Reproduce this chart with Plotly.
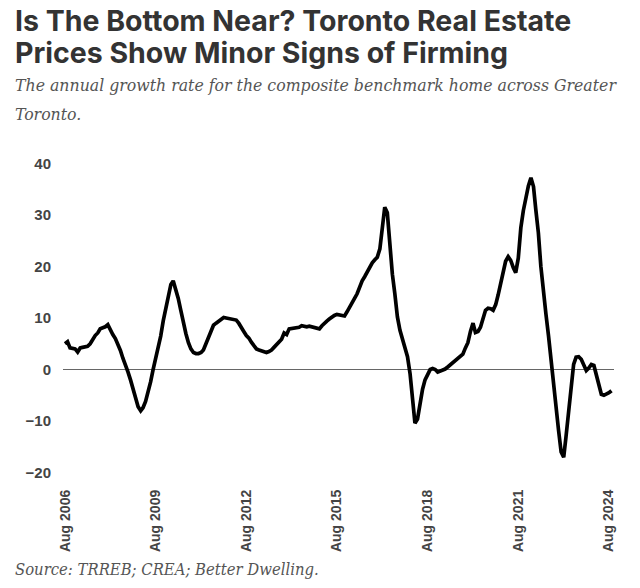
import plotly.graph_objects as go
import pandas as pd

# Annual growth rate (%) of the composite benchmark home, Greater Toronto, monthly from Aug 2006
start_month = "2006-08-01"
growth = [
    5.0, 5.4, 4.2, 4.1, 4.0, 3.4, 4.2, 4.3, 4.4, 4.5, 5.0, 5.8,          # Aug06-Jul07
    6.6, 7.1, 7.9, 8.1, 8.3, 8.7, 7.6, 6.8, 6.0, 4.9, 3.7, 2.2,          # Aug07-Jul08
    1.0, -0.5, -2.0, -3.6, -5.6, -7.2, -8.0, -7.4, -6.2, -4.6, -2.4, 0.0, # Aug08-Jul09
    2.0, 4.2, 6.5, 9.5, 11.8, 14.5, 16.5, 17.2, 15.6, 13.8, 11.5, 9.0,   # Aug09-Jul10
    7.0, 5.2, 4.0, 3.3, 3.1, 3.1, 3.3, 3.8, 5.0, 6.6, 7.8, 8.6,          # Aug10-Jul11
    9.0, 9.3, 9.6, 10.1, 10.0, 9.9, 9.9, 9.8, 9.6, 9.0, 8.3, 7.4,        # Aug11-Jul12
    6.6, 6.1, 5.3, 4.6, 4.0, 3.8, 3.6, 3.4, 3.3, 3.5, 3.8, 4.3,          # Aug12-Jul13
    4.9, 5.4, 5.9, 7.1, 6.8, 7.9, 8.0, 8.1, 8.1, 8.2, 8.5, 8.4,          # Aug13-Jul14
    8.3, 8.4, 8.3, 8.2, 8.1, 7.9, 8.5, 9.0, 9.4, 9.8, 10.2, 10.5,        # Aug14-Jul15
    10.7, 10.6, 10.4, 10.4, 11.2, 12.0, 12.8, 13.8, 14.7, 16.2, 17.2, 18.0,  # Aug15-Jul16
    19.0, 20.0, 20.7, 21.3, 21.8, 23.4, 27.6, 31.5, 30.4, 23.8, 18.5, 14.7,  # Aug16-Jul17
    10.2, 7.6, 5.9, 4.2, 2.5, -0.8, -6.5, -10.4, -9.6, -6.5, -3.8, -2.0,     # Aug17-Jul18
    -0.9, 0.0, 0.2, 0.0, -0.5, -0.3, -0.1, 0.1, 0.5, 0.9, 1.3, 1.7,          # Aug18-Jul19
    2.1, 2.4, 3.0, 4.2, 5.2, 7.4, 9.0, 7.2, 7.4, 8.2, 10.0, 11.5,            # Aug19-Jul20
    11.9, 11.8, 11.5, 12.6, 14.5, 16.8, 18.4, 21.0, 21.9, 21.2, 19.8, 18.8,  # Aug20-Jul21
    21.6, 27.5, 30.8, 33.5, 35.6, 37.2, 35.5, 31.0, 26.5, 20.0, 14.5, 10.8,  # Aug21-Jul22
    6.6, 1.8, -4.0, -7.4, -11.8, -16.0, -17.0, -13.0, -8.5, -3.2, 1.0, 2.4,  # Aug22-Jul23
    2.5, 2.0, 0.8, -0.2, 0.3, 1.0, 0.8, -1.0, -3.6, -4.8, -5.0, -4.8,        # Aug23-Jul24
    -4.5, -4.1,                                                              # Aug24-Sep24
]
dates = pd.date_range(start_month, periods=len(growth), freq="MS")

tick_dates = ["2006-08-01", "2009-08-01", "2012-08-01", "2015-08-01",
              "2018-08-01", "2021-08-01", "2024-08-01"]
tick_labels = ["Aug 2006", "Aug 2009", "Aug 2012", "Aug 2015",
               "Aug 2018", "Aug 2021", "Aug 2024"]
y_ticks = [-20, -10, 0, 10, 20, 30, 40]

title_lines = ["Is The Bottom Near? Toronto Real Estate",
               "Prices Show Minor Signs of Firming"]
subtitle_lines = ["The annual growth rate for the composite benchmark home across Greater",
                  "Toronto."]
source = "Source: TRREB; CREA; Better Dwelling."

fig = go.Figure()
fig.add_trace(go.Scatter(
    x=dates, y=growth, mode="lines",
    line=dict(color="#000000", width=3.7),
    showlegend=False, hoverinfo="skip",
))

title_font = dict(family="Inter, sans-serif", size=28.5, color="#333333", weight=700)
sub_font = dict(family="DejaVu Serif Condensed, DejaVu Serif", size=17.5,
                color="#555555", style="italic")

annotations = []
for text, y in zip(title_lines, [1.403, 1.306]):
    annotations.append(dict(text=text, xref="paper", yref="paper", x=-0.09, y=y,
                            xanchor="left", yanchor="middle", showarrow=False,
                            font=title_font))
for text, y in zip(subtitle_lines, [1.206, 1.118]):
    annotations.append(dict(text=text, xref="paper", yref="paper", x=-0.09, y=y,
                            xanchor="left", yanchor="middle", showarrow=False,
                            font=sub_font))
annotations.append(dict(text=source, xref="paper", yref="paper", x=-0.09, y=-0.261,
                        xanchor="left", yanchor="middle", showarrow=False,
                        font=dict(family="DejaVu Serif Condensed, DejaVu Serif", size=16.5,
                                  color="#555555", style="italic")))

fig.update_layout(
    width=640, height=588,
    paper_bgcolor="white", plot_bgcolor="white",
    margin=dict(l=63, r=26, t=153, b=105),
    annotations=annotations,
    xaxis=dict(
        range=["2006-07-08", "2024-10-01"],
        tickvals=tick_dates, ticktext=tick_labels, tickangle=-90,
        showgrid=False, zeroline=False, showline=False, ticks="",
        ticklabelstandoff=3,
        tickfont=dict(family="Liberation Sans, Arial", size=14, color="#444444", weight=700),
    ),
    yaxis=dict(
        range=[-22, 42], tickvals=y_ticks,
        showgrid=False, zeroline=True, zerolinecolor="#666666", zerolinewidth=1,
        showline=False, ticks="", ticklabelstandoff=11,
        tickfont=dict(family="Liberation Sans, Arial", size=15, color="#444444", weight=700),
    ),
)

fig.write_html("out.html", config={"displayModeBar": False},
               post_script="document.body.style.margin='0';")
